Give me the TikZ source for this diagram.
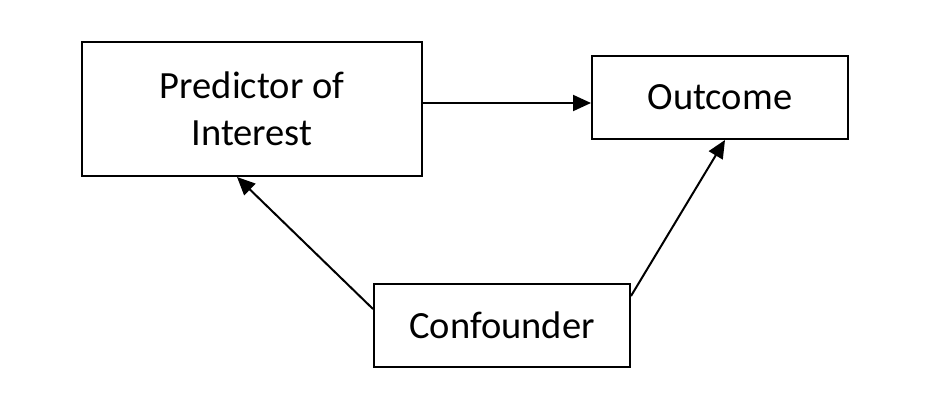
\documentclass[tikz,border=0pt]{standalone}
\usepackage{fontspec}
\setmainfont{Carlito}
\usetikzlibrary{arrows.meta}

\begin{document}
\begin{tikzpicture}[x=1pt, y=1pt, line width=2pt,
    box/.style={draw, align=center, inner sep=0pt,
      font=\fontsize{38.5}{47}\selectfont},
    link/.style={-{Triangle[length=18pt,width=16pt]}}]
  \useasboundingbox (0,0) rectangle (930,412);

  \node[box, minimum width=340, minimum height=134] (pred) at (252,303) {Predictor of\\Interest};
  \node[box, minimum width=256, minimum height=83] (out) at (720,314.5) {Outcome};
  \node[box, minimum width=256, minimum height=83] (conf) at (502,86.5) {Confounder};

  \coordinate (outin) at ([yshift=-5.5]out.west);
  \draw[link] (pred.east |- outin) -- (outin);
  \draw[link] ([yshift=-26]conf.north west) -- ([xshift=-15]pred.south);
  \draw[link] ([yshift=-13]conf.north east) -- ([xshift=5]out.south);

\end{tikzpicture}
\end{document}
